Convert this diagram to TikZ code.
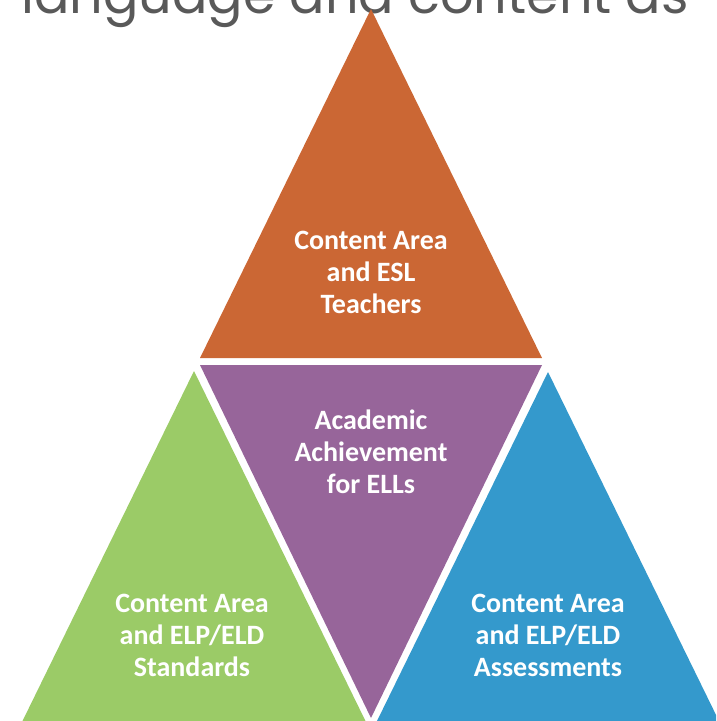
\documentclass[tikz,border=0pt]{standalone}
\usepackage{fontspec}
\setmainfont{Carlito}
\newfontfamily\headfont{Poppins}
\definecolor{teachorange}{RGB}{203,103,52}
\definecolor{achpurple}{RGB}{151,101,154}
\definecolor{stdgreen}{RGB}{155,203,103}
\definecolor{assblue}{RGB}{52,153,204}
\definecolor{headgray}{RGB}{89,89,89}

\begin{document}
\begin{tikzpicture}[x=1pt,y=-1pt,
    lbl/.style={text=white,align=center,inner sep=0pt,
      font=\fontsize{28}{32}\selectfont\bfseries}]
  \useasboundingbox (0,0) rectangle (716,721);
  \clip (0,0) rectangle (716,721);
  % heading runs off the top edge
  \node[anchor=base west,inner sep=0pt,text=headgray,
    font=\headfont\fontsize{52.5}{60}\selectfont] (head) at (21,13)
    {language and content as};
  % the four triangles
  \fill[teachorange] (371,9) -- (542,358) -- (200,358) -- cycle;
  \fill[achpurple] (200,365) -- (542,365) -- (371,718) -- cycle;
  \fill[stdgreen] (194,371) -- (365.5,721) -- (22.5,721) -- cycle;
  \fill[assblue] (548,372) -- (719.5,722) -- (376.5,722) -- cycle;
  \node[lbl] (teachers) at (371,272) {Content Area\\and ESL\\Teachers};
  \node[lbl] (achieve) at (371,452) {Academic\\Achievement\\for ELLs};
  \node[lbl] (standards) at (192,635) {Content Area\\and ELP/ELD\\Standards};
  \node[lbl] (assess) at (548,635) {Content Area\\and ELP/ELD\\Assessments};
\end{tikzpicture}
\end{document}
